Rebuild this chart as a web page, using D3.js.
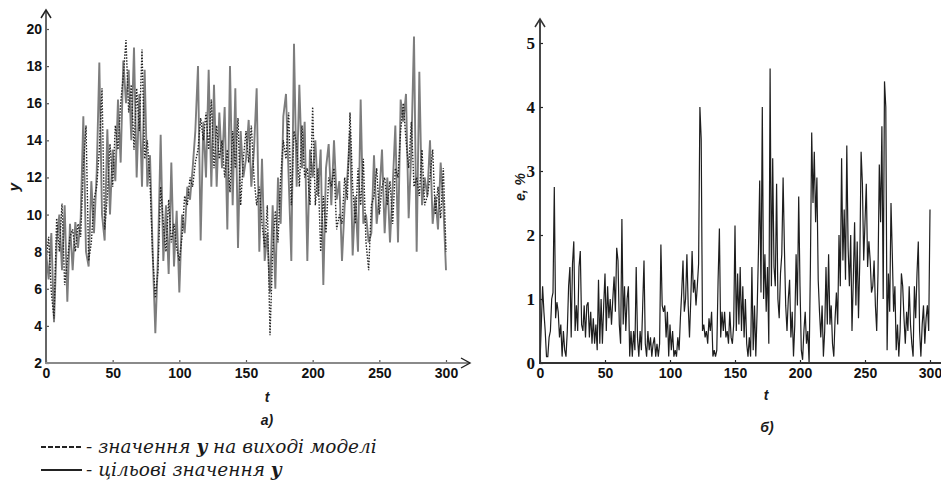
<!DOCTYPE html>
<html>
<head>
<meta charset="utf-8">
<script src="https://cdn.jsdelivr.net/npm/d3@7"></script>
<style>
  body { margin: 0; background: #fff; }
  svg { display: block; }
</style>
</head>
<body>
<div id="chart"></div>
<script>
// time steps: left chart every 2nd t, right chart every t
const tModel = d3.range(0, 301, 2);
const tErr = d3.range(0, 301, 1);

// target values of y (solid line)
const targetY = [
  8.0, 6.5, 9.0, 4.2, 8.5, 10.0, 7.0, 10.5, 5.3, 9.5,
  7.0, 9.6, 8.2, 9.8, 15.3, 8.0, 7.2, 11.8, 9.0, 12.2,
  18.2, 10.0, 8.6, 14.6, 10.0, 13.5, 11.8, 16.2, 12.8, 18.3,
  16.0, 17.8, 14.0, 19.0, 12.0, 16.5, 11.5, 17.8, 11.5, 13.2,
  8.0, 3.6, 7.8, 14.3, 7.5, 10.5, 6.8, 12.8, 7.2, 10.2,
  5.8, 10.0, 9.0, 11.5, 10.8, 12.5, 14.5, 18.0, 8.6, 15.0,
  12.0, 17.8, 11.5, 17.0, 11.5, 15.5, 12.5, 15.8, 9.2, 18.0,
  10.5, 16.8, 8.2, 14.5, 12.0, 13.0, 15.1, 11.5, 13.5, 16.8,
  8.0, 13.0, 7.5, 9.0, 5.8, 10.5, 6.0, 12.0, 9.5, 15.3,
  16.5, 12.0, 7.5, 19.2, 11.5, 17.0, 12.5, 15.0, 7.5, 13.5,
  12.0, 14.0, 11.0, 13.5, 6.2, 12.5, 13.8, 10.5, 14.0, 10.8,
  11.8, 7.5, 10.5, 12.0, 14.5, 7.8, 11.0, 8.0, 16.2, 9.5,
  10.0, 8.5, 9.0, 13.2, 9.5, 11.0, 13.5, 9.0, 12.0, 8.5,
  11.5, 14.8, 8.5, 16.2, 15.0, 16.5, 9.8, 13.5, 19.6, 8.0,
  17.7, 10.5, 12.0, 11.0, 14.0, 9.5, 11.0, 9.2, 12.8, 10.5,
  7.0
];

// model output values (dotted line)
const modelY = [
  7.5, 8.8, 5.8, 4.4, 9.8, 8.0, 10.6, 6.2, 7.5, 8.8,
  9.2, 8.0, 9.5, 8.8, 12.5, 14.8, 7.5, 8.5, 10.8, 11.5,
  13.5, 16.8, 9.2, 11.0, 13.8, 11.5, 14.8, 13.5, 16.0, 17.5,
  19.4, 15.5, 17.0, 13.5, 16.8, 14.5, 18.9, 13.0, 14.0, 11.8,
  7.8, 5.5, 7.0, 11.5, 9.5, 8.0, 10.8, 8.5, 9.5, 8.2,
  7.5, 8.8, 11.0, 10.5, 12.0, 11.5, 12.8, 13.5, 15.2, 14.0,
  15.5, 13.5, 16.2, 12.5, 14.8, 13.0, 14.0, 12.0, 13.5, 11.2,
  14.5, 12.5, 15.2, 10.5, 13.0, 14.5, 12.8, 14.8, 12.0, 10.5,
  11.5, 9.5, 8.2, 10.5, 3.5, 8.0, 10.2, 8.5, 12.0, 14.0,
  13.0, 15.5, 10.5, 14.5, 13.8, 11.5, 14.8, 12.0, 12.5, 10.5,
  15.8, 10.5, 12.5, 8.0, 11.0, 9.0, 12.0, 11.5, 12.5, 9.2,
  10.0, 9.5, 12.0, 10.8, 15.5, 11.5, 9.5, 12.5, 10.5, 13.0,
  8.5, 7.0, 10.5, 11.0, 12.5, 10.0, 11.5, 12.0, 10.5, 11.8,
  9.5, 12.5, 12.0, 14.5, 16.0, 14.0, 12.5, 15.0, 11.5, 12.0,
  11.0, 13.5, 10.5, 11.0, 12.0, 13.5, 10.0, 11.5, 9.8, 12.5,
  8.0
];

// relative error e, % (t = 0..300)
const errorE = [
  0.0, 0.6, 1.2, 0.8, 0.5, 0.1, 0.1, 0.4, 0.5, 1.0,
  1.1, 2.75, 0.7, 0.95, 0.8, 0.4, 0.6, 0.1, 0.5, 0.2,
  0.1, 0.5, 1.2, 1.5, 0.4, 1.55, 1.9, 0.5, 0.9, 0.5,
  1.5, 1.75, 0.6, 0.5, 0.9, 0.4, 0.9, 0.95, 0.4, 0.8,
  0.3, 0.7, 0.3, 0.6, 0.2, 1.3, 0.3, 1.0, 0.3, 0.9,
  1.4, 0.5, 1.2, 0.7, 1.0, 0.6, 1.0, 1.35, 0.8, 1.8,
  1.6, 0.6, 0.3, 2.25, 0.6, 1.2, 0.5, 1.0, 1.2, 0.1,
  0.5, 0.1, 0.5, 0.2, 1.5, 0.4, 0.1, 0.5, 0.2, 0.9,
  1.6, 0.3, 0.1, 0.5, 0.2, 0.4, 0.1, 0.3, 0.4, 0.1,
  0.3, 0.1, 0.3, 1.85, 0.9, 0.8, 0.9, 0.4, 0.8, 0.1,
  0.6, 0.2, 0.5, 0.1, 0.2, 0.1, 0.4, 0.2, 0.7, 1.1,
  1.6, 0.8, 1.0, 1.7, 0.9, 0.4, 1.0, 1.75, 1.1, 1.3,
  0.9, 1.2, 1.55, 4.0, 3.5, 0.5, 0.6, 0.4, 0.5, 0.3,
  0.7, 0.5, 0.8, 0.1, 0.2, 0.1, 0.2, 1.3, 2.1, 0.4,
  0.8, 0.5, 0.8, 0.4, 0.5, 0.3, 0.8, 0.4, 0.3, 0.6,
  2.15, 0.5, 1.4, 0.6, 1.5, 0.5, 1.2, 0.4, 1.0, 0.3,
  0.1, 0.4, 0.1, 1.5, 0.2, 0.9, 0.1, 0.8, 1.7, 2.85,
  1.1, 4.0, 1.0, 1.7, 0.8, 1.5, 0.3, 4.6, 1.2, 3.2,
  1.5, 1.2, 2.8, 1.0, 0.7, 1.4, 1.7, 2.9, 1.8, 0.9,
  0.5, 1.0, 1.3, 0.4, 0.8, 0.1, 0.6, 1.7, 0.9, 2.6,
  1.2, 0.2, 0.05, 0.5, 0.8, 0.3, 0.5, 0.0, 1.5, 3.6,
  2.5, 3.3, 2.2, 2.9, 1.3, 0.8, 0.4, 0.9, 0.1, 0.5,
  1.5, 0.6, 1.7, 0.6, 0.9, 0.3, 0.1, 0.7, 1.1, 0.6,
  2.0, 1.2, 3.2, 1.6, 2.4, 1.3, 3.4, 1.8, 1.2, 2.0,
  0.5, 1.3, 2.2, 0.9, 1.9, 0.7, 1.6, 3.3, 2.8, 1.6,
  2.2, 2.8, 1.5, 1.9, 1.6, 1.1, 1.2, 1.6, 0.9, 0.5,
  1.4, 3.1, 2.2, 3.7, 1.0, 4.4, 4.0, 0.2, 1.4, 0.8,
  2.5, 1.7, 0.8, 1.2, 0.2, 0.6, 0.1, 0.5, 1.4, 1.2,
  0.7, 0.3, 0.8, 0.5, 1.2, 0.6, 0.3, 0.1, 1.2, 0.7,
  1.4, 1.9, 0.5, 0.1, 0.6, 0.9, 0.3, 0.7, 0.9, 0.5,
  2.4
];

const leftYTicks = [2, 4, 6, 8, 10, 12, 14, 16, 18, 20];
const leftXTicks = [0, 50, 100, 150, 200, 250, 300];
const rightYTicks = [0, 1, 2, 3, 4, 5];
const rightXTicks = [0, 50, 100, 150, 200, 250, 300];

const svg = d3.select("#chart")
  .append("svg")
  .attr("width", 941)
  .attr("height", 491);

// open chevron arrow heads
function arrowUp(x, y, color) {
  svg.append("path")
    .attr("d", `M${x - 5},${y + 8} L${x},${y} L${x + 5},${y + 8}`)
    .attr("fill", "none")
    .attr("stroke", color)
    .attr("stroke-width", 1.5);
}
function arrowRight(x, y, color) {
  svg.append("path")
    .attr("d", `M${x - 9},${y - 5} L${x},${y} L${x - 9},${y + 5}`)
    .attr("fill", "none")
    .attr("stroke", color)
    .attr("stroke-width", 1.4);
}

// tick styling, set right on the text nodes
function styleAxis(g, family, size, color) {
  g.select(".domain").remove();
  g.selectAll("line").attr("stroke", color).attr("stroke-width", 1.2);
  g.selectAll("text")
    .attr("font-family", family)
    .attr("font-size", size)
    .attr("font-weight", "bold")
    .attr("fill", "#111");
}

function label(x, y, txt, opts = {}) {
  return svg.append("text")
    .attr("x", x).attr("y", y)
    .attr("text-anchor", "middle")
    .attr("font-family", "Liberation Sans")
    .attr("font-size", opts.size || 14)
    .attr("font-weight", "bold")
    .attr("font-style", "italic")
    .attr("fill", "#1a1a1a")
    .text(txt);
}

// ---------- left chart a) ----------
const xL = d3.scaleLinear().domain([0, 300]).range([46, 446]);
const yL = d3.scaleLinear().domain([2, 20]).range([363, 29]);

const lineL = d3.line()
  .x((d, i) => xL(tModel[i]))
  .y(d => yL(d));

svg.append("path")
  .datum(targetY)
  .attr("d", lineL)
  .attr("fill", "none")
  .attr("stroke", "#7d7d7d")
  .attr("stroke-width", 1.9);

svg.append("path")
  .datum(modelY)
  .attr("d", lineL)
  .attr("fill", "none")
  .attr("stroke", "#222")
  .attr("stroke-width", 1.4)
  .attr("stroke-dasharray", "1.5,1.5");

svg.append("g")
  .attr("transform", "translate(46,0)")
  .call(d3.axisLeft(yL).tickValues(leftYTicks).tickFormat(d3.format("d"))
    .tickSizeInner(-3).tickSizeOuter(0).tickPadding(4))
  .call(g => styleAxis(g, "Liberation Sans", 14, "#555"));

svg.append("g")
  .attr("transform", "translate(0,363)")
  .call(d3.axisBottom(xL).tickValues(leftXTicks).tickFormat(d3.format("d"))
    .tickSizeInner(-3).tickSizeOuter(0).tickPadding(5))
  .call(g => styleAxis(g, "Liberation Sans", 14, "#555"));

svg.append("line")
  .attr("x1", 46).attr("y1", 364).attr("x2", 46).attr("y2", 10)
  .attr("stroke", "#666").attr("stroke-width", 2);
svg.append("line")
  .attr("x1", 45).attr("y1", 363).attr("x2", 470).attr("y2", 363)
  .attr("stroke", "#8a8a8a").attr("stroke-width", 2.2);
arrowUp(46, 10, "#222");
arrowRight(470, 363, "#222");

label(0, 0, "y", { size: 15 })
  .attr("x", null).attr("y", null)
  .attr("transform", "translate(19,187) rotate(-90)");
label(267, 402, "t");
label(267, 425, "a)");

// legend
svg.append("line")
  .attr("x1", 41).attr("y1", 447).attr("x2", 82).attr("y2", 447)
  .attr("stroke", "#222").attr("stroke-width", 2)
  .attr("stroke-dasharray", "5,2");
svg.append("line")
  .attr("x1", 41).attr("y1", 470).attr("x2", 82).attr("y2", 470)
  .attr("stroke", "#222").attr("stroke-width", 2);

const leg1 = svg.append("text")
  .attr("x", 86).attr("y", 453)
  .attr("font-family", "DejaVu Serif")
  .attr("font-style", "italic")
  .attr("font-size", 18.5)
  .attr("fill", "#1a1a1a");
leg1.append("tspan").text("- значення ");
leg1.append("tspan").attr("font-weight", "bold").text("y");
leg1.append("tspan").text(" на виході моделі");

const leg2 = svg.append("text")
  .attr("x", 86).attr("y", 476)
  .attr("font-family", "DejaVu Serif")
  .attr("font-style", "italic")
  .attr("font-size", 18.5)
  .attr("fill", "#1a1a1a");
leg2.append("tspan").text("- цільові значення ");
leg2.append("tspan").attr("font-weight", "bold").text("y");

// ---------- right chart б) ----------
const xR = d3.scaleLinear().domain([0, 300]).range([540, 930]);
const yR = d3.scaleLinear().domain([0, 5]).range([363, 43]);

const lineR = d3.line()
  .x((d, i) => xR(tErr[i]))
  .y(d => yR(d));

svg.append("path")
  .datum(errorE)
  .attr("d", lineR)
  .attr("fill", "none")
  .attr("stroke", "#1e1e1e")
  .attr("stroke-width", 1.2);

svg.append("g")
  .attr("transform", "translate(540,0)")
  .call(d3.axisLeft(yR).tickValues(rightYTicks).tickFormat(d3.format("d"))
    .tickSizeInner(-3).tickSizeOuter(0).tickPadding(5))
  .call(g => styleAxis(g, "Liberation Serif", 17, "#222"));

svg.append("g")
  .attr("transform", "translate(0,363)")
  .call(d3.axisBottom(xR).tickValues(rightXTicks).tickFormat(d3.format("d"))
    .tickSizeInner(-3).tickSizeOuter(0).tickPadding(5))
  .call(g => styleAxis(g, "Liberation Sans", 14, "#222"));

svg.append("line")
  .attr("x1", 540).attr("y1", 364).attr("x2", 540).attr("y2", 19)
  .attr("stroke", "#333").attr("stroke-width", 1.8);
svg.append("line")
  .attr("x1", 539).attr("y1", 363).attr("x2", 941).attr("y2", 363)
  .attr("stroke", "#333").attr("stroke-width", 1.8);
arrowUp(540, 19, "#333");

label(0, 0, "e, %")
  .attr("x", null).attr("y", null)
  .attr("transform", "translate(525,187) rotate(-90)");
label(766, 400, "t");
label(767, 432, "б)");
</script>
</body>
</html>
